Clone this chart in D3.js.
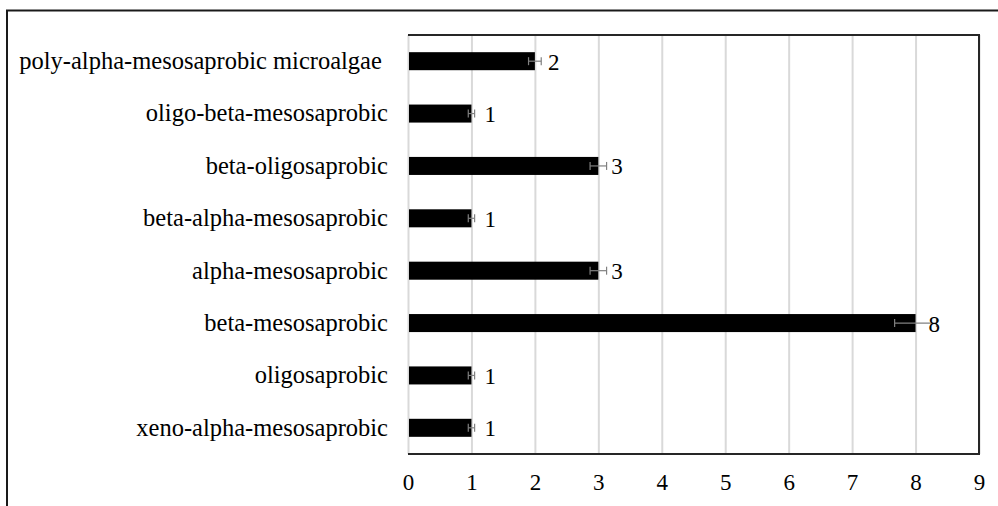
<script src="https://d3js.org/d3.v7.min.js"></script>

<style>
  body { margin: 0; background: white; }
  text { font-family: "Liberation Serif", "Times New Roman", serif; }
</style>

<svg width=998 height=506>
</svg>

<script>

// saprobity groups, top to bottom
var categories = [
  "poly-alpha-mesosaprobic microalgae ",
  "oligo-beta-mesosaprobic",
  "beta-oligosaprobic",
  "beta-alpha-mesosaprobic",
  "alpha-mesosaprobic",
  "beta-mesosaprobic",
  "oligosaprobic",
  "xeno-alpha-mesosaprobic"
];
var values = [2, 1, 3, 1, 3, 8, 1, 1];
var errors = [0.1, 0.05, 0.13, 0.05, 0.13, 0.33, 0.05, 0.05];
var xTicks = [0, 1, 2, 3, 4, 5, 6, 7, 8, 9];

var rows = categories.map((c, i) => ({ name: c, value: values[i], err: errors[i] }));

var svg = d3.select('svg');

// outer chart frame (cut off at right / bottom like the original)
svg.append('path')
  .attr('d', 'M7,507 L7,10.5 L998,10.5')
  .attr('fill', 'none')
  .attr('stroke', '#1a1a1a')
  .attr('stroke-width', 2);

// plot area (note: "top" is reserved on window, so use pl/pr/pt/pb)
var pl = 408, pr = 979, pt = 35, pb = 454;

var x = d3.scaleLinear()
  .domain([0, 9])
  .range([pl, pr]);

var y = d3.scaleBand()
  .domain(categories)
  .range([pt, pb])
  .paddingInner(0.656)
  .paddingOuter(0.328);

// gridlines
svg.append('g')
  .attr('transform', 'translate(0,' + pb + ')')
  .call(d3.axisBottom(x).tickValues(xTicks).tickSize(-(pb - pt)).tickFormat(''))
  .call(g => g.select('.domain').remove())
  .call(g => g.selectAll('line').attr('stroke', '#d9d9d9').attr('stroke-width', 2));

// plot border: top, right, bottom
svg.append('path')
  .attr('d', 'M' + pl + ',' + pt + ' L' + pr + ',' + pt + ' L' + pr + ',' + pb + ' L' + pl + ',' + pb)
  .attr('fill', 'none')
  .attr('stroke', '#262626')
  .attr('stroke-width', 2);

// bars
svg.append('g')
  .selectAll('rect')
  .data(rows)
  .enter()
  .append('rect')
    .attr('x', x(0) + 1)
    .attr('y', d => y(d.name))
    .attr('width', d => x(d.value) - x(0) - 1)
    .attr('height', y.bandwidth())
    .attr('fill', 'black');

// error bars
var eb = svg.append('g')
  .selectAll('g')
  .data(rows)
  .enter()
  .append('g')
    .attr('stroke', '#808080')
    .attr('stroke-width', 1.2);

eb.append('line')
  .attr('x1', d => x(d.value - d.err))
  .attr('x2', d => x(d.value + d.err))
  .attr('y1', d => y(d.name) + y.bandwidth() / 2)
  .attr('y2', d => y(d.name) + y.bandwidth() / 2);
eb.append('line')
  .attr('x1', d => x(d.value - d.err))
  .attr('x2', d => x(d.value - d.err))
  .attr('y1', d => y(d.name) + y.bandwidth() / 2 - 4)
  .attr('y2', d => y(d.name) + y.bandwidth() / 2 + 4);
eb.append('line')
  .attr('x1', d => x(d.value + d.err))
  .attr('x2', d => x(d.value + d.err))
  .attr('y1', d => y(d.name) + y.bandwidth() / 2 - 4)
  .attr('y2', d => y(d.name) + y.bandwidth() / 2 + 4);

// value labels
svg.append('g')
  .selectAll('text')
  .data(rows)
  .enter()
  .append('text')
    .attr('x', d => x(d.value) + 13)
    .attr('y', d => y(d.name) + y.bandwidth() / 2 + 8.5)
    .attr('font-size', 23)
    .attr('fill', 'black')
    .text(d => d.value);

// category axis
svg.append('g')
  .attr('transform', 'translate(' + pl + ',0)')
  .call(d3.axisLeft(y).tickSize(0).tickPadding(20))
  .call(g => g.select('.domain').remove())
  .call(g => g.selectAll('text')
    .attr('font-size', 24.5)
    .attr('font-family', '"Liberation Serif", serif')
    .attr('fill', 'black')
    .style('white-space', 'pre'));

// value axis
svg.append('g')
  .attr('transform', 'translate(0,' + pb + ')')
  .call(d3.axisBottom(x).tickValues(xTicks).tickSize(0).tickPadding(20))
  .call(g => g.select('.domain').remove())
  .call(g => g.selectAll('text')
    .attr('font-size', 23)
    .attr('font-family', '"Liberation Serif", serif')
    .attr('fill', 'black'));

</script>
